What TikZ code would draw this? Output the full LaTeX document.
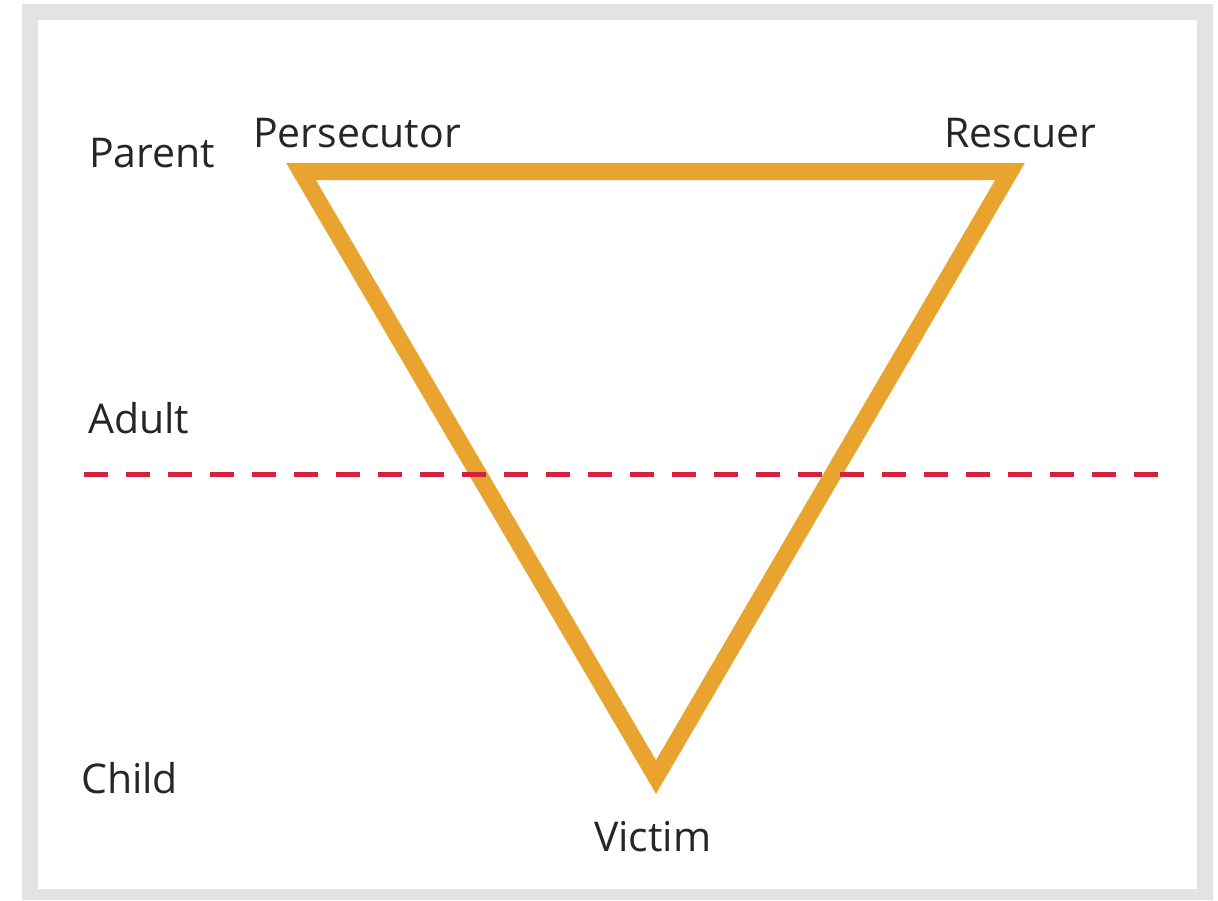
\documentclass[tikz,border=0pt]{standalone}
\usepackage{fontspec}
\setmainfont{Open Sans}
\definecolor{tri}{RGB}{233,164,48}
\definecolor{dash}{RGB}{215,32,60}
\definecolor{frame}{RGB}{227,227,227}
\definecolor{txt}{RGB}{38,38,38}
\begin{document}
\begin{tikzpicture}[x=1pt,y=-1pt,
  lbl/.style={anchor=base west,inner sep=0pt,text=txt,font=\fontsize{41}{49}\selectfont},
  triline/.style={draw=tri,line width=17pt,line join=miter},
  levelline/.style={draw=dash,line width=5pt,dash pattern=on 24pt off 18pt}]
\useasboundingbox (0,0) rectangle (1218,900);
\fill[frame,even odd rule] (22,4) rectangle (1213,900) (38,20) rectangle (1197,889);
\coordinate (P) at (301,171.5);
\coordinate (R) at (1010,171.5);
\coordinate (V) at (656,777);
\draw[triline] (P) -- (R) -- (V) -- cycle;
\coordinate (L1) at (84,474);
\coordinate (L2) at (1160,474);
\draw[levelline] (L1) -- (L2);
\node[lbl] (parent) at (89,167) {Parent};
\node[lbl] (adult) at (88,433) {Adult};
\node[lbl] (child) at (81,793) {Child};
\node[lbl] (pers) at (253,147) {Persecutor};
\node[lbl] (resc) at (944,147) {Rescuer};
\node[lbl] (vict) at (594,851) {Victim};
\end{tikzpicture}
\end{document}
